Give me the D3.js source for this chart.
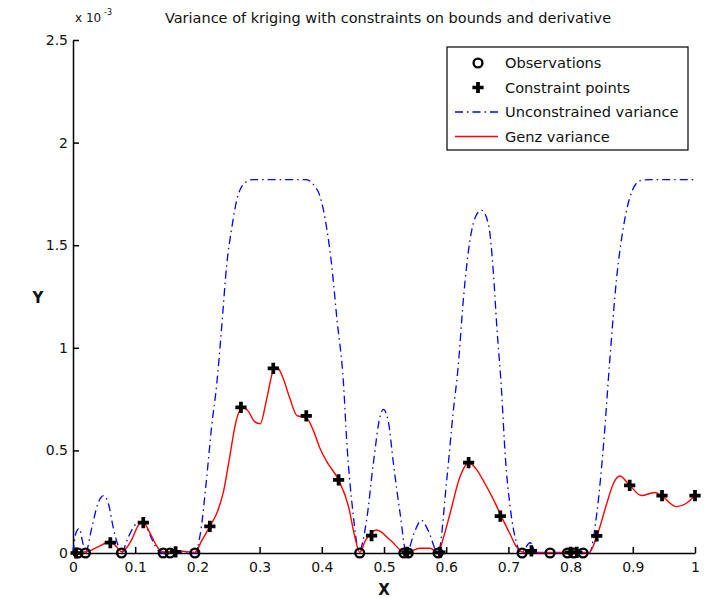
<!DOCTYPE html>
<html>
<head>
<meta charset="utf-8">
<script src="https://cdn.jsdelivr.net/npm/d3@7"></script>
<style>
    body { margin: 0; background: #fff; }
    text { font-family: "DejaVu Sans", sans-serif; fill: #111; }
</style>
</head>
<body>
<div id="chart"></div>
<script>
// values in units of 1e-3
const unconstrainedX = [0, 0.005, 0.01, 0.015, 0.02, 0.03, 0.04, 0.049, 0.057, 0.065, 0.072, 0.078,
    0.088, 0.098, 0.108, 0.115, 0.125, 0.135, 0.145, 0.196, 0.205, 0.215, 0.223, 0.231, 0.239, 0.247,
    0.255, 0.266, 0.279, 0.29, 0.375, 0.388, 0.397, 0.408, 0.416, 0.424, 0.435, 0.44, 0.45, 0.46,
    0.472, 0.483, 0.494, 0.499, 0.507, 0.515, 0.526, 0.536, 0.55, 0.56, 0.571, 0.587, 0.601, 0.611,
    0.619, 0.628, 0.638, 0.649, 0.657, 0.668, 0.676, 0.681, 0.689, 0.695, 0.703, 0.713, 0.72, 0.735,
    0.745, 0.83, 0.842, 0.853, 0.863, 0.874, 0.885, 0.895, 0.912, 0.93, 1];
const unconstrainedY = [0, 0.10, 0.12, 0.06, 0, 0.12, 0.24, 0.28, 0.24, 0.12, 0.04, 0,
    0.07, 0.13, 0.15, 0.14, 0.08, 0.02, 0, 0, 0.1, 0.37, 0.62, 0.82, 1.10, 1.40,
    1.58, 1.75, 1.81, 1.82, 1.82, 1.79, 1.74, 1.58, 1.40, 1.15, 0.82, 0.55, 0.20, 0.01,
    0.16, 0.44, 0.67, 0.70, 0.64, 0.44, 0.19, 0, 0.11, 0.16, 0.11, 0, 0.36, 0.68,
    0.90, 1.25, 1.52, 1.65, 1.67, 1.60, 1.36, 1.12, 0.79, 0.47, 0.22, 0.05, 0, 0.05,
    0, 0, 0.19, 0.53, 0.94, 1.34, 1.59, 1.73, 1.815, 1.82, 1.82];

const genzX = [0, 0.01, 0.022, 0.04, 0.06, 0.07, 0.078, 0.094, 0.104, 0.112, 0.124, 0.137, 0.145,
    0.17, 0.196, 0.207, 0.22, 0.232, 0.242, 0.252, 0.262, 0.272, 0.282, 0.292, 0.301, 0.312, 0.322, 0.328,
    0.338, 0.349, 0.36, 0.375, 0.386, 0.397, 0.408, 0.427, 0.443, 0.453, 0.461, 0.47, 0.488, 0.51,
    0.534, 0.546, 0.558, 0.574, 0.587, 0.596, 0.606, 0.622, 0.636, 0.648, 0.662, 0.676, 0.69, 0.703, 0.713,
    0.725, 0.83, 0.842, 0.858, 0.869, 0.879, 0.895, 0.914, 0.935, 0.946, 0.97, 0.985, 1];
const genzY = [0, 0.003, 0.006, 0.03, 0.055, 0.03, 0.006, 0.063, 0.13, 0.153, 0.096, 0.023, 0.005,
    0.01, 0.003, 0.06, 0.13, 0.2, 0.3, 0.47, 0.64, 0.71, 0.69, 0.64, 0.63, 0.76, 0.89, 0.905,
    0.85, 0.75, 0.67, 0.66, 0.6, 0.51, 0.445, 0.356, 0.226, 0.08, 0.003, 0.06, 0.112, 0.063,
    0.002, 0.012, 0.023, 0.023, 0.002, 0.08, 0.19, 0.37, 0.44, 0.41, 0.34, 0.26, 0.17, 0.09, 0.03,
    0.003, 0.003, 0.08, 0.24, 0.34, 0.375, 0.33, 0.28, 0.295, 0.28, 0.226, 0.24, 0.28];

const observationX = [0.008, 0.02, 0.078, 0.145, 0.156, 0.196, 0.461, 0.532, 0.539, 0.587,
    0.722, 0.767, 0.795, 0.805, 0.82];
const observationY = observationX.map(() => 0);

const constraintX = [0.005, 0.06, 0.113, 0.165, 0.22, 0.27, 0.322, 0.375, 0.427, 0.48, 0.537,
    0.59, 0.636, 0.687, 0.737, 0.8, 0.81, 0.842, 0.895, 0.947, 1.0];
const constraintY = [0, 0.05, 0.148, 0.005, 0.13, 0.71, 0.9, 0.668, 0.356, 0.085, 0.003,
    0.003, 0.44, 0.18, 0.01, 0.003, 0.003, 0.083, 0.33, 0.28, 0.28];

const xTicks = [0, 0.1, 0.2, 0.3, 0.4, 0.5, 0.6, 0.7, 0.8, 0.9, 1];
const yTicks = [0, 0.5, 1, 1.5, 2, 2.5];
const legendLabels = ["Observations", "Constraint points", "Unconstrained variance", "Genz variance"];

const W = 711, H = 598;
const margin = {left: 73, right: 16, top: 40, bottom: 45};

const svg = d3.select('#chart')
    .append('svg')
    .attr('width', W)
    .attr('height', H);

const x = d3.scaleLinear().domain([0, 1]).range([margin.left, W - margin.right]);
const y = d3.scaleLinear().domain([0, 2.5]).range([H - margin.bottom, margin.top]);

// axes (ticks point inward, like matlab)
const xAxis = d3.axisBottom(x).tickValues(xTicks).tickSizeInner(-6).tickSizeOuter(0)
    .tickPadding(9).tickFormat(d3.format('~g'));
const yAxis = d3.axisLeft(y).tickValues(yTicks).tickSizeInner(-6).tickSizeOuter(0)
    .tickPadding(5).tickFormat(d3.format('~g'));

const gx = svg.append('g').attr('transform', `translate(0,${y(0)})`).call(xAxis);
const gy = svg.append('g').attr('transform', `translate(${x(0)},0)`).call(yAxis);
[gx, gy].forEach((g) => {
    g.select('.domain').attr('stroke', '#000').attr('stroke-width', 1.5);
    g.selectAll('.tick line').attr('stroke', '#000').attr('stroke-width', 1.5);
    g.selectAll('.tick text').attr('font-size', 14).attr('font-family', 'DejaVu Sans').attr('fill', '#222');
});

// exponent label
svg.append('text').attr('x', 75).attr('y', 22).attr('font-size', 12).text('x 10');
svg.append('text').attr('x', 104).attr('y', 15).attr('font-size', 8).text('-3');

svg.append('text')
    .attr('x', (x(0) + x(1)) / 2 + 4).attr('y', 23)
    .attr('text-anchor', 'middle').attr('font-size', 14.5)
    .text('Variance of kriging with constraints on bounds and derivative');

svg.append('text').attr('x', x(0.5)).attr('y', 595).attr('text-anchor', 'middle')
    .attr('font-size', 15).attr('font-weight', 'bold').text('X');
svg.append('text').attr('x', 38).attr('y', 303).attr('text-anchor', 'middle')
    .attr('font-size', 15).attr('font-weight', 'bold').text('Y');

// curves
const line = d3.line()
    .x((d) => x(d[0]))
    .y((d) => y(d[1]))
    .curve(d3.curveMonotoneX);

svg.append('path')
    .datum(d3.zip(unconstrainedX, unconstrainedY))
    .attr('d', line)
    .attr('fill', 'none')
    .attr('stroke', '#0000ff')
    .attr('stroke-width', 1.3)
    .attr('stroke-dasharray', '8,4,1.5,4');

svg.append('path')
    .datum(d3.zip(genzX, genzY))
    .attr('d', line)
    .attr('fill', 'none')
    .attr('stroke', '#ff0000')
    .attr('stroke-width', 1.4);

// markers
const cross = d3.symbol().type(d3.symbolCross).size(70);
svg.append('g')
    .selectAll('path')
    .data(d3.zip(constraintX, constraintY))
    .join('path')
    .attr('transform', (d) => `translate(${x(d[0])},${y(d[1])})`)
    .attr('d', cross)
    .attr('fill', '#000');

svg.append('g')
    .selectAll('circle')
    .data(d3.zip(observationX, observationY))
    .join('circle')
    .attr('cx', (d) => x(d[0]))
    .attr('cy', (d) => y(d[1]))
    .attr('r', 4.4)
    .attr('fill', 'none')
    .attr('stroke', '#000')
    .attr('stroke-width', 2.4);

// legend
const lg = svg.append('g').attr('transform', 'translate(447,47)');
lg.append('rect').attr('width', 241).attr('height', 103)
    .attr('fill', '#fff').attr('stroke', '#000').attr('stroke-width', 1.2);
const rowY = (i) => 16 + i * 24.5;
lg.append('circle').attr('cx', 31).attr('cy', rowY(0)).attr('r', 4.4)
    .attr('fill', 'none').attr('stroke', '#000').attr('stroke-width', 2.4);
lg.append('path').attr('transform', `translate(31,${rowY(1)})`).attr('d', cross).attr('fill', '#000');
lg.append('line').attr('x1', 8).attr('x2', 51).attr('y1', rowY(2)).attr('y2', rowY(2))
    .attr('stroke', '#0000ff').attr('stroke-width', 1.3).attr('stroke-dasharray', '8,4,1.5,4');
lg.append('line').attr('x1', 8).attr('x2', 51).attr('y1', rowY(3)).attr('y2', rowY(3))
    .attr('stroke', '#ff0000').attr('stroke-width', 1.4);
lg.selectAll('text.lab')
    .data(legendLabels)
    .join('text')
    .attr('class', 'lab')
    .attr('x', 58)
    .attr('y', (_d, i) => rowY(i) + 5)
    .attr('font-size', 14.6)
    .attr('fill', '#1a1a40')
    .text((d) => d);
</script>
</body>
</html>
